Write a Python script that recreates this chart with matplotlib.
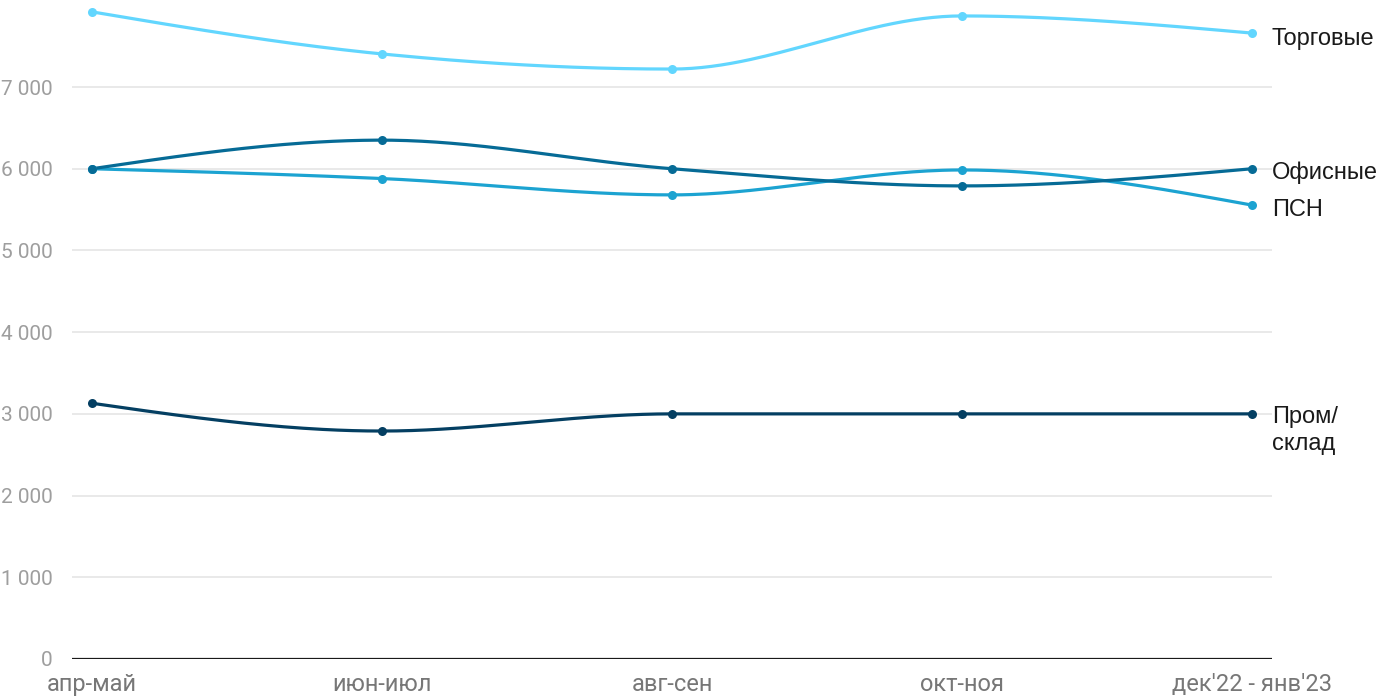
import numpy as np
import matplotlib
matplotlib.use("Agg")
import matplotlib.pyplot as plt

categories = ["апр-май", "июн-июл", "авг-сен", "окт-ноя", "дек'22 - янв'23"]
torgovye = [7920, 7405, 7220, 7870, 7660]
ofisnye = [6000, 6350, 6000, 5790, 6000]
psn = [6000, 5880, 5680, 5985, 5555]
prom = [3130, 2790, 3000, 3000, 3000]
yticks = [0, 1000, 2000, 3000, 4000, 5000, 6000, 7000]
ytick_labels = ["0", "1 000", "2 000", "3 000", "4 000", "5 000", "6 000", "7 000"]

series = [
    ("Торговые", torgovye, "#62d6fe"),
    ("ПСН", psn, "#1ca3d1"),
    ("Офисные", ofisnye, "#066b96"),
    ("Пром/\nсклад", prom, "#043f62"),
]
label_dy = {"Торговые": -6, "ПСН": -5, "Офисные": -4}


def monotone_curve(x, y, n=60):
    x = np.asarray(x, float)
    y = np.asarray(y, float)
    h = np.diff(x)
    s = np.diff(y) / h
    t = np.zeros_like(y)
    sgn = lambda v: -1.0 if v < 0 else 1.0
    for i in range(1, len(x) - 1):
        h0, h1 = h[i - 1], h[i]
        s0, s1 = s[i - 1], s[i]
        p = (s0 * h1 + s1 * h0) / (h0 + h1)
        t[i] = (sgn(s0) + sgn(s1)) * min(abs(s0), abs(s1), 0.5 * abs(p))
    t[0] = (3 * s[0] - t[1]) / 2
    t[-1] = (3 * s[-1] - t[-2]) / 2
    xs, ys = [], []
    for i in range(len(x) - 1):
        u = np.linspace(0, 1, n)
        h00 = 2 * u**3 - 3 * u**2 + 1
        h10 = u**3 - 2 * u**2 + u
        h01 = -2 * u**3 + 3 * u**2
        h11 = u**3 - u**2
        xs.append(x[i] + u * h[i])
        ys.append(h00 * y[i] + h10 * h[i] * t[i] + h01 * y[i + 1] + h11 * h[i] * t[i + 1])
    return np.concatenate(xs), np.concatenate(ys)


fig = plt.figure(figsize=(14, 7), dpi=100)
ax = fig.add_axes([72 / 1400, 41 / 700, 1200 / 1400, 8 * 81.71 / 700])
xpos = np.arange(len(categories))
pad = 20 / 290
ax.set_xlim(-pad, len(categories) - 1 + pad)
ax.set_ylim(0, 8000)

for yv in yticks[1:]:
    ax.axhline(yv, color="#e3e3e3", lw=1.1, zorder=0)
ax.axhline(0, color="#1a1a1a", lw=1.6, zorder=1)

for name, vals, col in series:
    cx, cy = monotone_curve(xpos, vals)
    ax.plot(cx, cy, color=col, lw=2.3, solid_capstyle="round", zorder=2)
for name, vals, col in series:
    ax.plot(xpos, vals, "o", color=col, ms=6.5, mew=0, zorder=3)

label_font = ["Liberation Sans", "DejaVu Sans"]
for name, vals, col in series:
    px, py = ax.transData.transform((xpos[-1], vals[-1]))
    if "\n" in name:
        fig.text(1272 / 1400, (py + 8) / 700, name, ha="left", va="top", fontsize=17,
                 family=label_font, color="#1a1a1a", linespacing=1.3)
    else:
        fig.text(1272 / 1400, (py + label_dy[name]) / 700, name, ha="left", va="center",
                 fontsize=17, family=label_font, color="#1a1a1a")

ax.set_xticks(xpos)
ax.set_xticklabels(categories, fontsize=17, family="Roboto", color="#777777")
ax.set_yticks(yticks)
ax.set_yticklabels(ytick_labels, fontsize=15, family="Roboto", color="#9e9e9e")
ax.tick_params(axis="both", length=0)
ax.tick_params(axis="x", pad=10)
ax.tick_params(axis="y", pad=14)
for s in ax.spines.values():
    s.set_visible(False)

fig.savefig("out.png", dpi=100, facecolor="white")
